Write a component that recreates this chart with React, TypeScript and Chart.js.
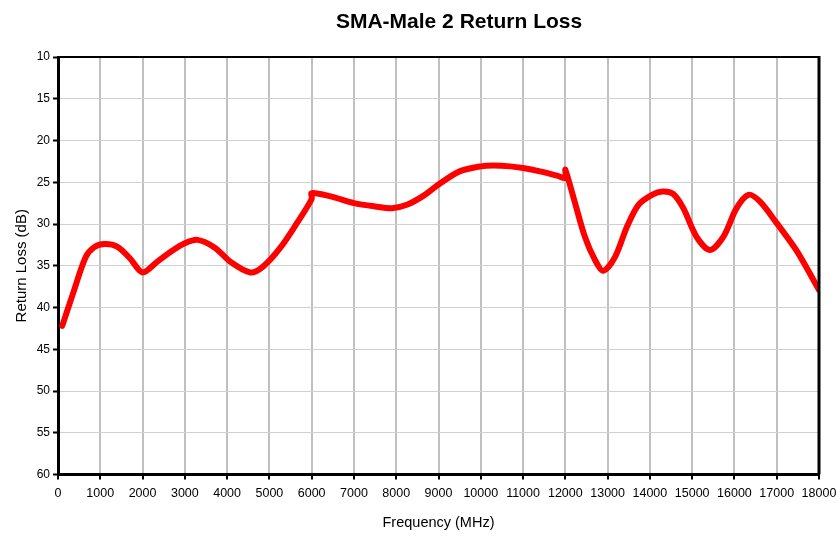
import React, { useEffect, useRef } from "react";
import { Chart, registerables } from "chart.js";

Chart.register(...registerables);

const chartTitle = "SMA-Male 2 Return Loss";
const xAxisTitle = "Frequency (MHz)";
const yAxisTitle = "Return Loss (dB)";

// Frequency points (MHz) and measured return loss (dB); bands join at 6000 and 12000 MHz
const freqMHz = [
  100, 350, 650, 850, 1100, 1400, 1700, 2000, 2350, 2700, 3000, 3300, 3700, 4100, 4550, 4850, 5250, 5650, 6000,
  6000, 6450, 7000, 7500, 7900, 8250, 8650, 9050, 9500, 10000, 10300, 10700, 11000, 11400, 11800, 12000,
  12000, 12230, 12460, 12700, 12900, 13180, 13460, 13730, 14050, 14300, 14550, 14790, 15100, 15420, 15740, 16050,
  16330, 16600, 17000, 17470, 18000,
];
const returnLossDb = [
  42.2, 38.4, 34.0, 32.8, 32.4, 32.7, 34.1, 35.8, 34.5, 33.2, 32.3, 31.9, 32.8, 34.6, 35.8, 35.1, 32.9, 29.9, 27.0,
  26.3, 26.7, 27.5, 27.9, 28.1, 27.7, 26.6, 25.1, 23.7, 23.1, 23.0, 23.1, 23.3, 23.7, 24.2, 24.5,
  23.5, 27.5, 31.5, 34.3, 35.6, 33.9, 30.3, 27.7, 26.5, 26.1, 26.4, 28.1, 31.5, 33.1, 31.5, 28.1,
  26.5, 27.3, 29.9, 33.2, 37.9,
];

const xMin = 0;
const xMax = 18000;
const xStep = 1000;
const yMin = 10;
const yMax = 60;
const yStep = 5;

const FONT = "'Liberation Sans', Arial, sans-serif";
const CANVAS_W = 836;
const CANVAS_H = 536;

export default function App() {
  const canvasRef = useRef<HTMLCanvasElement | null>(null);

  useEffect(() => {
    document.documentElement.style.overflow = "hidden";
    document.body.style.margin = "0";
    if (!canvasRef.current) return;
    const points = freqMHz.map((f, i) => ({ x: f, y: returnLossDb[i] }));

    const framePlugin = {
      id: "frameAndTitle",
      afterDraw(chart: any) {
        const { ctx, chartArea } = chart;
        ctx.save();
        ctx.strokeStyle = "#000";
        ctx.lineWidth = 2;
        ctx.beginPath();
        ctx.moveTo(chartArea.left, chartArea.top);
        ctx.lineTo(chartArea.right, chartArea.top);
        ctx.stroke();
        ctx.lineWidth = 3;
        ctx.beginPath();
        ctx.moveTo(chartArea.right, chartArea.top - 1);
        ctx.lineTo(chartArea.right, chartArea.bottom);
        ctx.stroke();
        ctx.fillStyle = "#000";
        ctx.font = "bold 21px " + FONT;
        ctx.textAlign = "center";
        ctx.textBaseline = "middle";
        ctx.fillText(chartTitle, chartArea.left + chartArea.width * 0.527, 22.5);
        ctx.restore();
      },
    };

    const chart = new Chart(canvasRef.current, {
      type: "line",
      data: {
        datasets: [
          {
            data: points,
            borderColor: "#ff0000",
            backgroundColor: "#ff0000",
            borderWidth: 6,
            pointRadius: 0,
            tension: 0.3,
            borderCapStyle: "round",
            borderJoinStyle: "round",
            fill: false,
          },
        ],
      },
      options: {
        responsive: false,
        animation: false,
        layout: { padding: { top: 57, left: 0, right: 0, bottom: 0 } },
        plugins: {
          legend: { display: false },
          title: { display: false },
          tooltip: { enabled: false },
        },
        scales: {
          x: {
            type: "linear",
            min: xMin,
            max: xMax,
            ticks: {
              stepSize: xStep,
              autoSkip: false,
              maxRotation: 0,
              minRotation: 0,
              padding: 7,
              color: "#000",
              font: { family: FONT, size: 12.5 },
              callback: (v: any) => String(v),
            },
            grid: {
              color: "#c0c0c0",
              lineWidth: 2,
              tickColor: "#000",
              tickLength: 5,
              tickWidth: 2,
            },
            border: { display: true, color: "#000", width: 3 },
            title: {
              display: true,
              text: xAxisTitle,
              color: "#000",
              font: { family: FONT, size: 14.5 },
              padding: { top: 0, bottom: 4 },
            },
            afterFit: (scale: any) => {
              scale.height = 61.5;
              scale.paddingRight = 17;
            },
          },
          y: {
            type: "linear",
            reverse: true,
            min: yMin,
            max: yMax,
            ticks: {
              stepSize: yStep,
              padding: 3,
              color: "#000",
              font: { family: FONT, size: 12 },
              callback: (v: any) => String(v),
            },
            grid: {
              color: "#d0d0d0",
              lineWidth: 1,
              tickColor: "#000",
              tickLength: 5,
              tickWidth: 2,
            },
            border: { display: true, color: "#000", width: 3 },
            title: {
              display: true,
              text: yAxisTitle,
              color: "#000",
              font: { family: FONT, size: 15 },
              padding: { top: 13, bottom: 0 },
            },
            afterFit: (scale: any) => {
              scale.width = 58;
            },
          },
        },
      },
      plugins: [framePlugin],
    });

    return () => chart.destroy();
  }, []);

  return (
    <div style={{ width: CANVAS_W, height: CANVAS_H, overflow: "hidden" }}>
      <canvas ref={canvasRef} width={CANVAS_W} height={CANVAS_H} style={{ display: "block" }} />
    </div>
  );
}
